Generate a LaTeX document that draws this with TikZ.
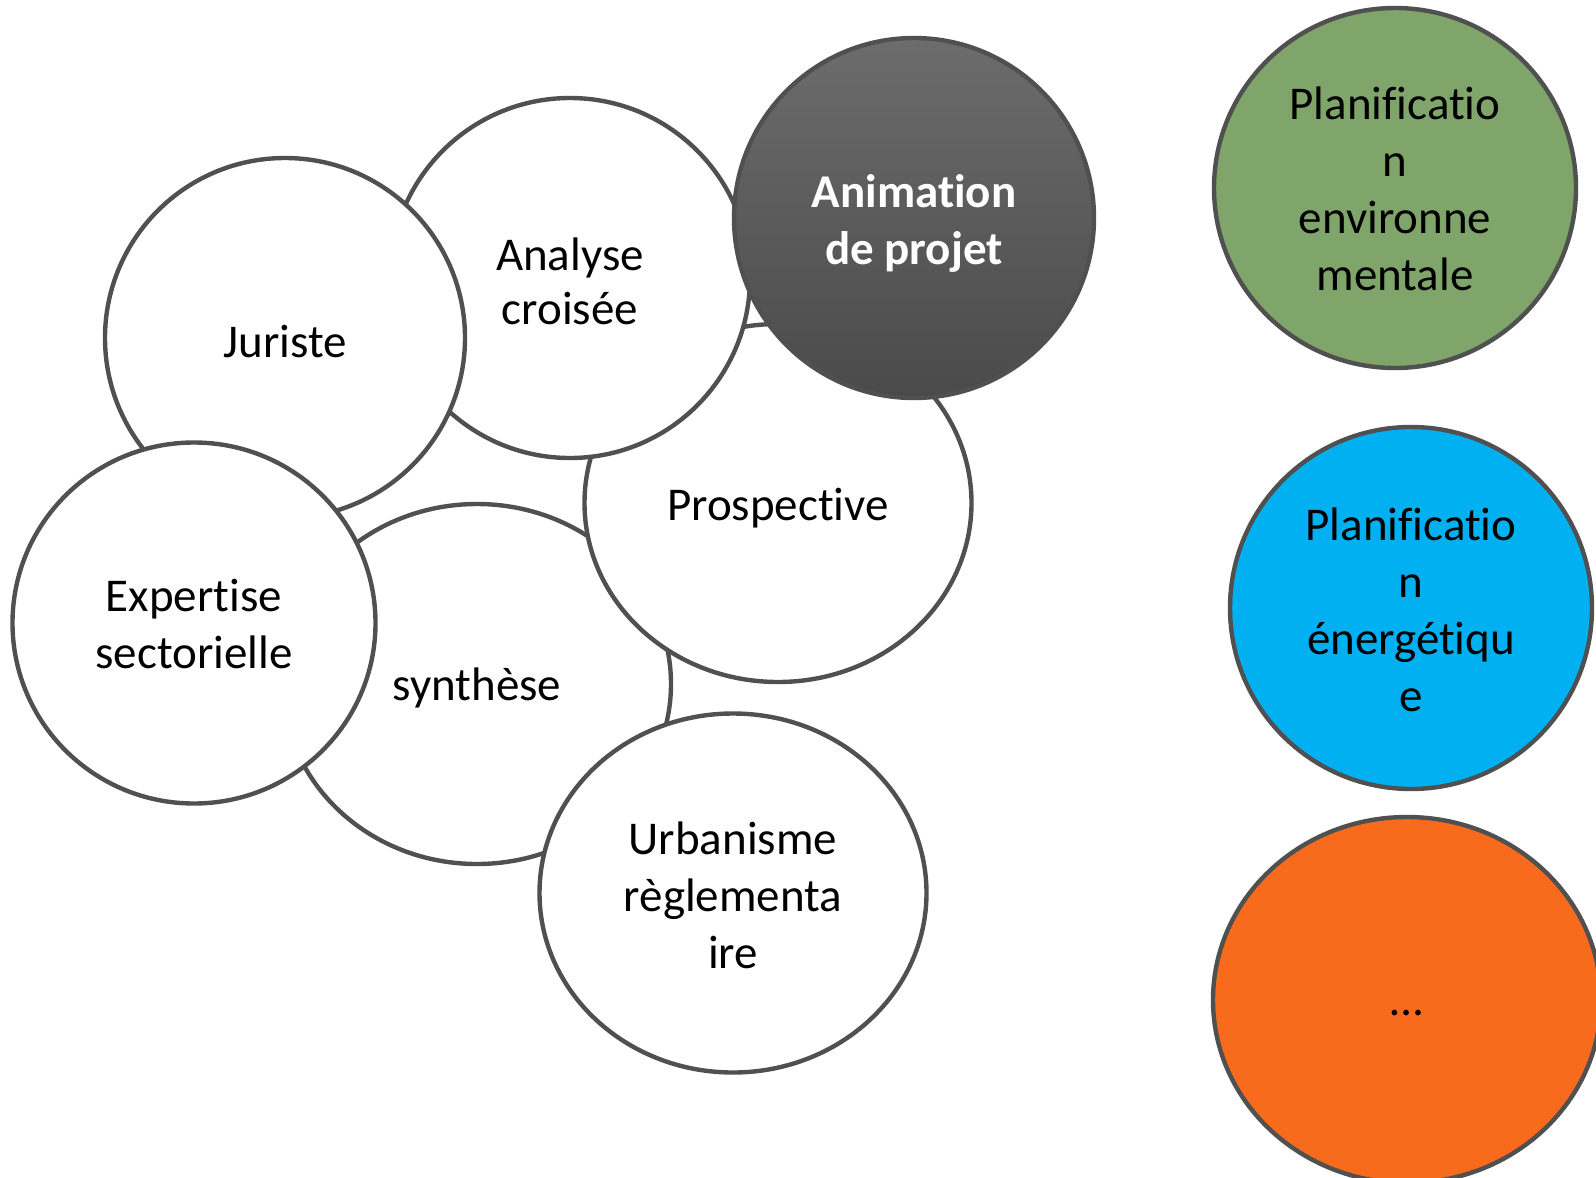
\documentclass[tikz,border=0pt]{standalone}
\usepackage{fontspec}
\setmainfont{Carlito}[Ligatures={NoCommon,NoRare},Contextuals=NoAlternate]
\usetikzlibrary{shapes.geometric}
\definecolor{edgegray}{HTML}{505050}
\definecolor{envgreen}{HTML}{80A56B}
\definecolor{energyblue}{HTML}{00B0F0}
\definecolor{moreorange}{HTML}{F86B1D}
\definecolor{animtop}{HTML}{6C6C6C}
\definecolor{animbot}{HTML}{4A4A4A}
\begin{document}
\begin{tikzpicture}[x=1pt,y=-1pt,
  bubble/.style={ellipse,draw=edgegray,line width=4.4pt,fill=white,inner sep=0pt},
  lbl/.style={inner sep=0pt,align=center,font=\fontsize{47}{57}\selectfont},
  r180/.style={minimum width=360pt,minimum height=360pt},
  wide/.style={minimum width=388pt,minimum height=360pt}]
\useasboundingbox (0,0) rectangle (1596,1178);
\begin{scope}
\clip (0,0) rectangle (1596,1178);
\node[bubble,wide] (synth) at (477,684) {};
\node[lbl] (synthT) at ([yshift=-4pt]synth.center) {synthèse};
\node[bubble,minimum width=387pt,minimum height=358pt] (prosp) at (778,503) {};
\node[lbl] (prospT) at ([yshift=-5pt]prosp.center) {Prospective};
\node[bubble,r180] (analyse) at (570,278) {};
\node[lbl,font=\fontsize{47}{54}\selectfont] (analyseT) at ([yshift=-3pt]analyse.center) {Analyse\\croisée};
\node[bubble,r180] (jur) at (285,338) {};
\node[lbl] (jurT) at ([yshift=-3pt]jur.center) {Juriste};
\node[bubble,minimum width=363pt,minimum height=361pt] (expert) at (194,623) {};
\node[lbl] (expertT) at ([yshift=-1pt]expert.center) {Expertise\\sectorielle};
\node[bubble,minimum width=387pt,minimum height=359pt] (urba) at (733,893) {};
\node[lbl] (urbaT) at ([yshift=-2pt]urba.center) {Urbanisme\\règlementa\\ire};
\node[bubble,r180,fill=none,shade,top color=animtop,bottom color=animbot] (anim) at (914,218) {};
\node[lbl,text=white,font=\fontsize{47}{57}\selectfont\bfseries] (animT) at ([yshift=-5pt]anim.center) {Animation\\de projet};
\node[bubble,minimum width=362pt,minimum height=360pt,fill=envgreen] (env) at (1395,188) {};
\node[lbl] (envT) at ([yshift=-1pt]env.center) {Planificatio\\n\\environne\\mentale};
\node[bubble,minimum width=362pt,minimum height=362pt,fill=energyblue] (energ) at (1411,608) {};
\node[lbl] (energT) at ([yshift=-2pt]energ.center) {Planificatio\\n\\énergétiqu\\e};
\node[bubble,minimum width=388pt,minimum height=366pt,fill=moreorange] (more) at (1407,1000) {};
\node[lbl] (moreT) at ([yshift=-13pt]more.center) {…};
\end{scope}
\end{tikzpicture}
\end{document}
